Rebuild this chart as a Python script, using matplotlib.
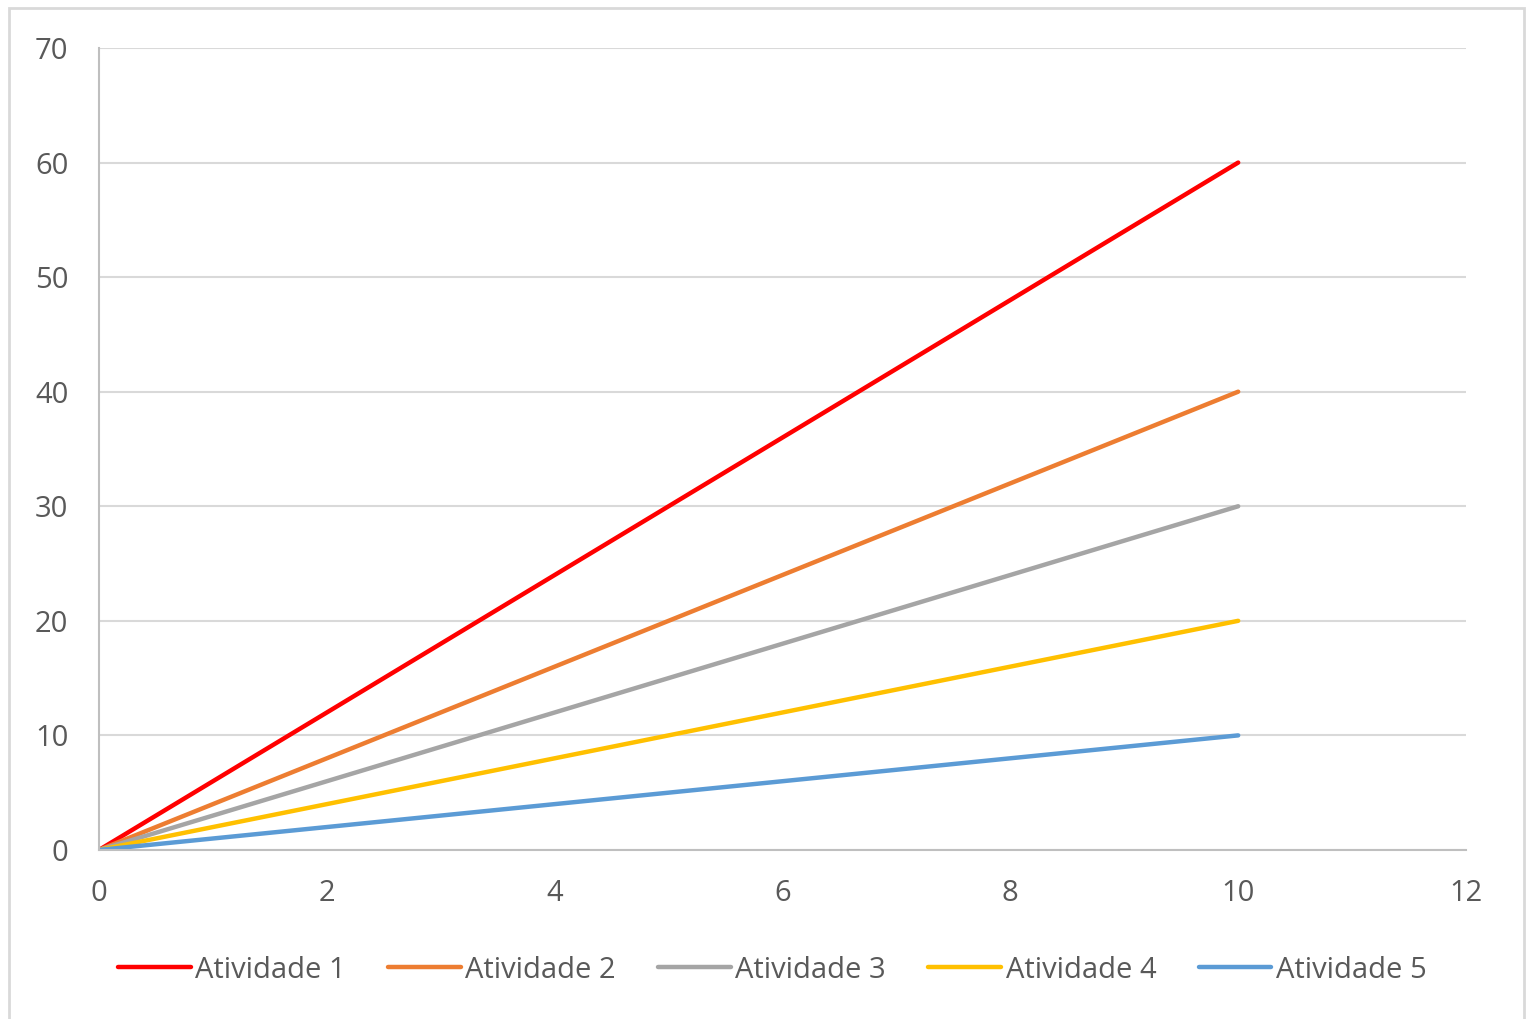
import matplotlib
matplotlib.use('Agg')
import matplotlib.pyplot as plt
from matplotlib.patches import Rectangle

# data
x = [0, 10]
labels = ["Atividade 1", "Atividade 2", "Atividade 3", "Atividade 4", "Atividade 5"]
end_values = [60, 40, 30, 20, 10]
colors = ["#FF0000", "#ED7D31", "#A5A5A5", "#FFC000", "#5B9BD5"]
xticks = [0, 2, 4, 6, 8, 10, 12]
yticks = [0, 10, 20, 30, 40, 50, 60, 70]

plt.rcParams['font.family'] = ['Open Sans', 'DejaVu Sans']

fig = plt.figure(figsize=(15.26, 10.19), dpi=100)
ax = fig.add_axes([0.0649, 0.1659, 0.8958, 0.787])

for lab, v, c in zip(labels, end_values, colors):
    ax.plot(x, [0, v], color=c, lw=3.2, label=lab, solid_capstyle='round')

ax.set_xlim(0, 12)
ax.set_ylim(0, 70)
ax.set_xticks(xticks)
ax.set_yticks(yticks)
ax.grid(axis='y', color='#D9D9D9', lw=1.5)
ax.set_axisbelow(True)
for s in ['top', 'right']:
    ax.spines[s].set_visible(False)
for s in ['left', 'bottom']:
    ax.spines[s].set_color('#BFBFBF')
    ax.spines[s].set_linewidth(1.5)
ax.tick_params(axis='both', length=0, labelsize=21, labelcolor='#595959')
ax.tick_params(axis='y', pad=22)
ax.tick_params(axis='x', pad=21)

leg = fig.legend(loc='center', bbox_to_anchor=(0.506, 0.048), ncol=5, frameon=False,
                 fontsize=21, handlelength=2.5, handletextpad=0.15, columnspacing=1.45)
for t in leg.get_texts():
    t.set_color('#595959')

fig.patches.append(Rectangle((0.006, -0.01), 0.9927, 1.002, transform=fig.transFigure,
                             fill=False, edgecolor='#D9D9D9', lw=2))

fig.savefig('out.png', dpi=100)
